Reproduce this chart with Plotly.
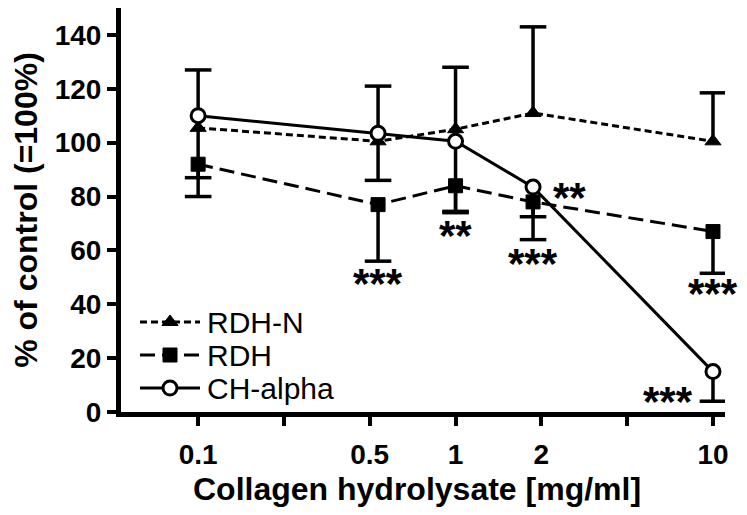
import math
import plotly.graph_objects as go

# concentrations [mg/ml]
conc = [0.1, 0.5, 1, 2, 10]

# % of control, mean values
rdh_n = [105.5, 100.5, 105, 111, 100.5]
rdh = [92, 77, 84, 78, 67]
ch_alpha = [110, 103.5, 100.5, 83.5, 15]

# error bars (GraphPad style, one-sided)
rdh_n_err_up = [21.5, 20.5, 23, 32, 18]
rdh_err_down = [12, 21, 10, 14, 15.5]
ch_alpha_err_down = [23, 17.5, 26, 11, 11]

# x ticks: every third of a decade, only some labelled
x_tick_exp = [-1, -2 / 3, -1 / 3, 0, 1 / 3, 2 / 3, 1]
x_tick_text = ["0.1", "", "0.5", "1", "2", "", "10"]
y_ticks = [0, 20, 40, 60, 80, 100, 120, 140]

# significance marks: (text, x, y, xshift)
stars = [
    ("***", 0.5, 49.7, 0),
    ("**", 1, 67.5, 0),
    ("***", 2, 57.1, 0),
    ("**", 2, 81.6, 36),
    ("***", 10, 46, 0),
    ("***", 10, 5.6, -45),
]

FONT = "Arial, Liberation Sans, sans-serif"
# page body has an 8px margin, so the figure is 8px smaller than the window
W, H = 739, 507
ML, MR, MT, MB = 113, 22, 0, 103
PW, PH = W - ML - MR, H - MT - MB

series = [
    dict(name="RDH-N", y=rdh_n, up=rdh_n_err_up, down=[0] * 5,
         dash="7px,4px", symbol="triangle-up", size=14, fill="black", lw=1),
    dict(name="RDH", y=rdh, up=[0] * 5, down=rdh_err_down,
         dash="15px,7px", symbol="square", size=14, fill="black", lw=1),
    dict(name="CH-alpha", y=ch_alpha, up=[0] * 5, down=ch_alpha_err_down,
         dash="solid", symbol="circle", size=14, fill="white", lw=3),
]

fig = go.Figure()

# error bar caps
for s in series:
    ends_x, ends_y = [], []
    for x, y, u, d in zip(conc, s["y"], s["up"], s["down"]):
        if u:
            ends_x.append(x)
            ends_y.append(y + u)
        if d:
            ends_x.append(x)
            ends_y.append(y - d)
    fig.add_trace(go.Scatter(x=ends_x, y=ends_y, mode="markers", showlegend=False,
                             marker=dict(symbol="line-ew", size=19,
                                         line=dict(width=3.5, color="black"))))

for s in series:
    fig.add_trace(go.Scatter(
        x=conc, y=s["y"], name=s["name"], mode="lines+markers", showlegend=False,
        line=dict(color="black", width=3, dash=s["dash"]),
        marker=dict(symbol=s["symbol"], size=s["size"], color=s["fill"],
                    line=dict(color="black", width=s["lw"])),
        error_y=dict(type="data", symmetric=False, array=s["up"], arrayminus=s["down"],
                     width=0, thickness=3.5, color="black"),
    ))

# hand-made legend on an overlay axis measured in plot pixels
leg_rows = [90, 57, 24]
for s, ry in zip(series, leg_rows):
    fig.add_trace(go.Scatter(x=[19, 79], y=[ry, ry], mode="lines", xaxis="x2", yaxis="y2",
                             showlegend=False, line=dict(color="black", width=3, dash=s["dash"])))
    fig.add_trace(go.Scatter(x=[49], y=[ry], mode="markers", xaxis="x2", yaxis="y2",
                             showlegend=False,
                             marker=dict(symbol=s["symbol"], size=s["size"], color=s["fill"],
                                         line=dict(color="black", width=s["lw"]))))
    fig.add_annotation(x=84, y=ry, xref="x2", yref="y2", text=s["name"], showarrow=False,
                       xanchor="left", yanchor="middle",
                       font=dict(family=FONT, size=30, color="black"))

# annotations on a log axis take log10 positions
for txt, x, y, xs in stars:
    fig.add_annotation(x=math.log10(x), y=y, text=txt, showarrow=False, xshift=xs, yshift=-5,
                       font=dict(family=FONT, size=42, weight="bold", color="black"))

# x axis title
fig.add_annotation(x=0.5, y=0, xref="paper", yref="paper", xanchor="center", yanchor="top",
                   xshift=-6, yshift=-57, showarrow=False,
                   text="Collagen hydrolysate [mg/ml]",
                   font=dict(family=FONT, size=32, weight="bold", color="black"))

fig.update_layout(
    width=W, height=H,
    margin=dict(l=ML, r=MR, t=MT, b=MB),
    plot_bgcolor="white", paper_bgcolor="white",
    font=dict(family=FONT, color="black"),
    xaxis=dict(type="log", range=[-1.2996, 1.0467],
               tickvals=[10 ** e for e in x_tick_exp], ticktext=x_tick_text,
               ticks="outside", ticklen=9, tickwidth=3.5, tickcolor="black",
               showline=True, linewidth=5, linecolor="black", showgrid=False, zeroline=False,
               ticklabelstandoff=4,
               tickfont=dict(family=FONT, size=28, weight="bold")),
    yaxis=dict(range=[0, 150], tickvals=y_ticks,
               ticks="outside", ticklen=9, tickwidth=3.5, tickcolor="black",
               showline=True, linewidth=5, linecolor="black", showgrid=False, zeroline=False,
               tickfont=dict(family=FONT, size=28, weight="bold"),
               title=dict(text="% of control (=100%)", standoff=19,
                          font=dict(family=FONT, size=32, weight="bold"))),
    xaxis2=dict(range=[0, PW], overlaying="x", anchor="y2", visible=False),
    yaxis2=dict(range=[0, PH], overlaying="y", anchor="x2", visible=False),
)

fig.write_html("out.html")
